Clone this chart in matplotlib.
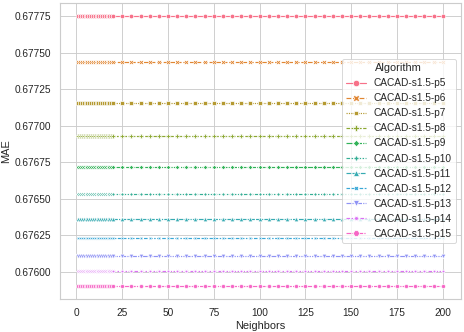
import numpy as np
import pandas as pd
import matplotlib
matplotlib.use("Agg")
import matplotlib.pyplot as plt
import seaborn as sns

algorithms = ["CACAD-s1.5-p5", "CACAD-s1.5-p6", "CACAD-s1.5-p7", "CACAD-s1.5-p8",
              "CACAD-s1.5-p9", "CACAD-s1.5-p10", "CACAD-s1.5-p11", "CACAD-s1.5-p12",
              "CACAD-s1.5-p13", "CACAD-s1.5-p14", "CACAD-s1.5-p15"]
mae_values = [0.677750, 0.677435, 0.677159, 0.676927, 0.676716, 0.676534,
              0.676364, 0.676230, 0.676109, 0.676003, 0.675905]
neighbors = list(range(1, 20)) + list(range(20, 201, 5))

rows = []
for alg, v in zip(algorithms, mae_values):
    for n in neighbors:
        rows.append({"Neighbors": n, "MAE": v, "Algorithm": alg})
df = pd.DataFrame(rows)

sns.set_theme(style="whitegrid", context="notebook")
plt.rcParams['font.family'] = ['Liberation Sans', 'DejaVu Sans']

dpi = 66
fig = plt.figure(figsize=(464 / dpi, 332 / dpi), dpi=dpi)
ax = fig.add_axes([60 / 464, 1 - 299 / 332, (461 - 60) / 464, (299 - 3) / 332])
sns.lineplot(data=df, x="Neighbors", y="MAE", hue="Algorithm", style="Algorithm",
             hue_order=algorithms, style_order=algorithms,
             markers=True, dashes=True, ax=ax, markersize=5, linewidth=1.3)
ax.set_xticks([0, 25, 50, 75, 100, 125, 150, 175, 200])
ax.set_yticks([0.676, 0.67625, 0.6765, 0.67675, 0.677, 0.67725, 0.6775, 0.67775])
ax.set_yticklabels([f"{t:.5f}" for t in ax.get_yticks()])
leg = ax.legend(title="Algorithm", loc="center right")
for h in leg.legend_handles:
    h.set_markersize(7)
fig.savefig("out.png", dpi=dpi)
